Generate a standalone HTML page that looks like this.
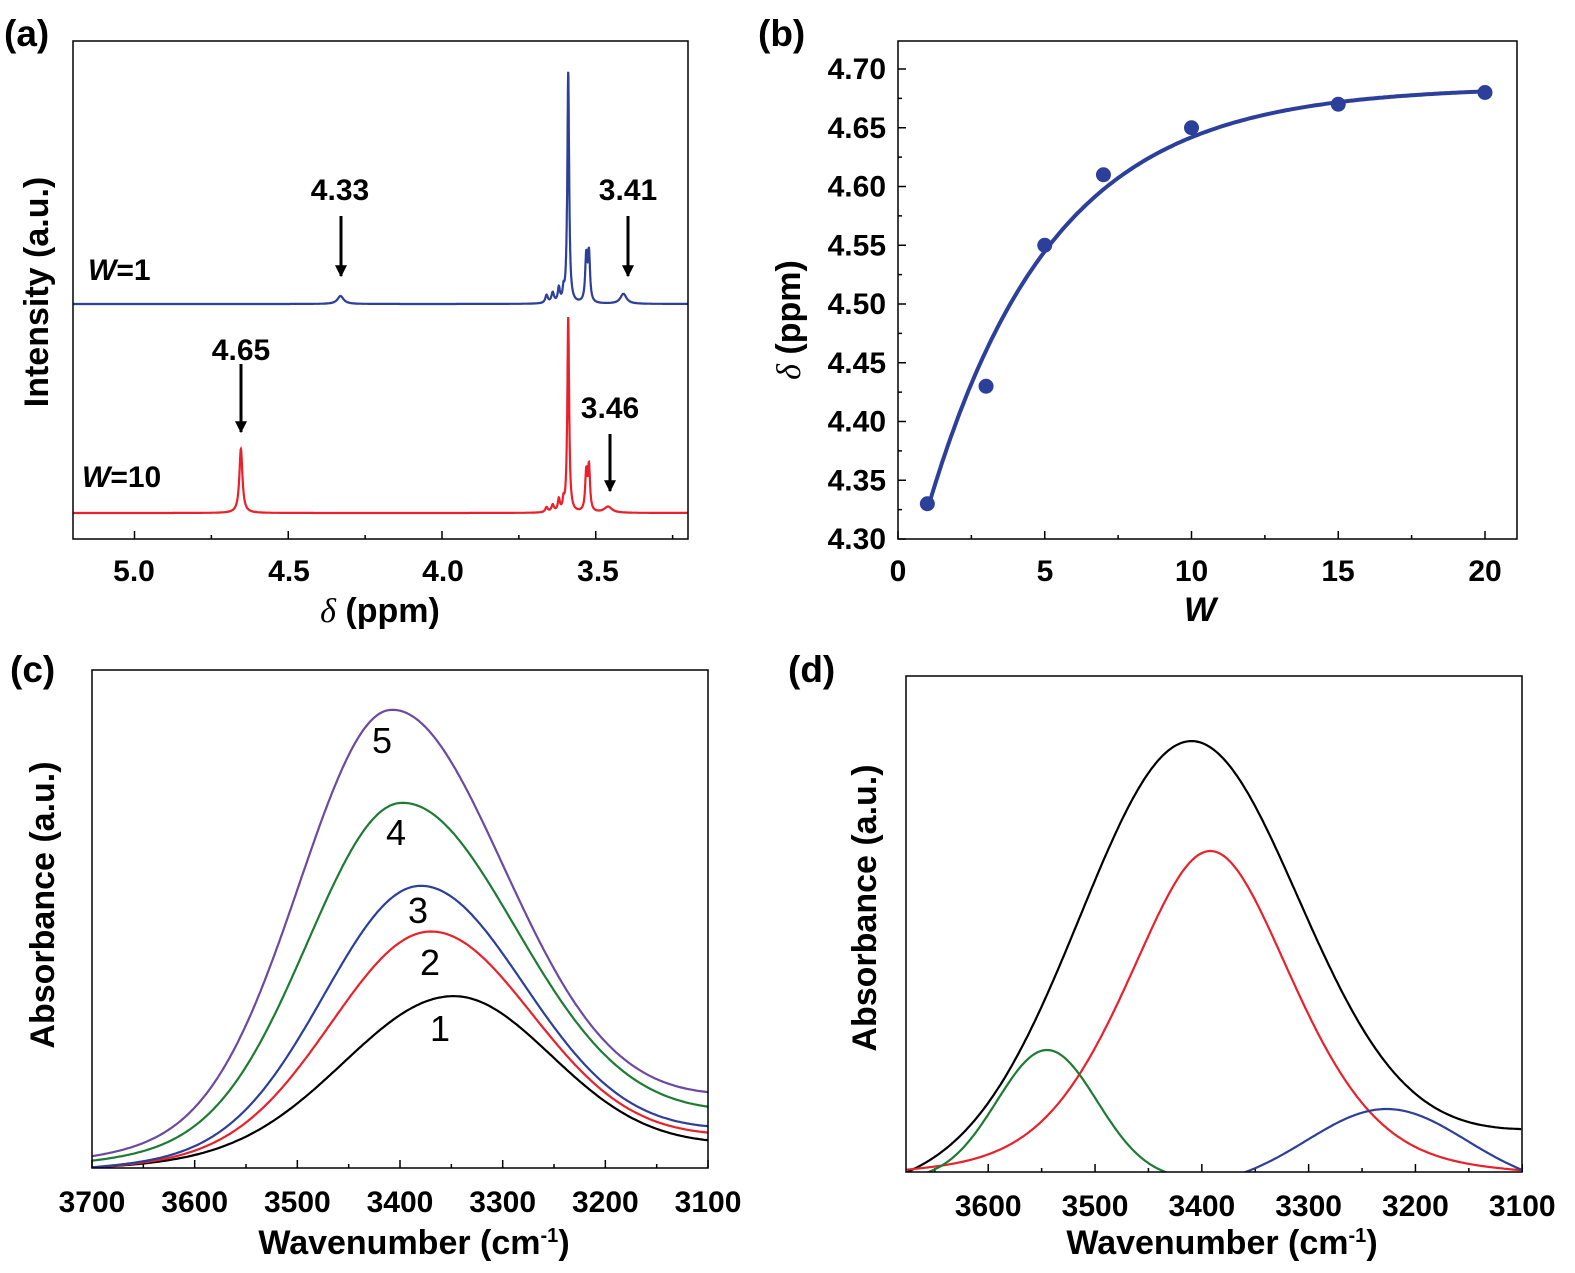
<!DOCTYPE html>
<html><head><meta charset="utf-8"><style>
body{margin:0;background:#fff}
svg{display:block;font-family:"Liberation Sans",Arial,sans-serif}
.tl{font-size:30px;font-weight:bold}
.at{font-size:34px;font-weight:bold}
.pl{font-size:37px;font-weight:bold}
.an{font-size:30px;font-weight:bold}
.nm{font-size:36px}
</style></head><body>
<svg id="s" width="1575" height="1273" viewBox="0 0 1575 1273" xmlns="http://www.w3.org/2000/svg">
<defs><marker id="ar" viewBox="0 0 10 10" refX="9" refY="5" markerWidth="4" markerHeight="4" orient="auto"><path d="M0,0L10,5L0,10z" fill="#000"/></marker></defs>
<g id="paths"></g>
<text x="4" y="46" class="pl">(a)</text>
<text x="758" y="46" class="pl">(b)</text>
<text x="10" y="682" class="pl">(c)</text>
<text x="788" y="682" class="pl">(d)</text>
<rect x="73" y="41" width="615" height="498" fill="none" stroke="#000" stroke-width="1.5"/>
<rect x="898" y="41" width="619" height="498" fill="none" stroke="#000" stroke-width="1.5"/>
<rect x="92" y="670" width="616" height="498" fill="none" stroke="#000" stroke-width="1.5"/>
<rect x="906" y="676" width="616" height="496" fill="none" stroke="#000" stroke-width="1.5"/>
<g class="tl" text-anchor="middle">
<text x="134" y="581">5.0</text><text x="289" y="581">4.5</text><text x="443" y="581">4.0</text><text x="598" y="581">3.5</text>
</g>
<text x="380" y="622" class="at" text-anchor="middle"><tspan font-style="italic" font-weight="normal" font-family="Liberation Serif">δ</tspan> (ppm)</text>
<text transform="translate(48,292) rotate(-90)" class="at" text-anchor="middle">Intensity (a.u.)</text>
<text x="88" y="280" class="an"><tspan font-style="italic">W</tspan>=1</text>
<text x="82" y="487" class="an"><tspan font-style="italic">W</tspan>=10</text>
<g class="an" text-anchor="middle">
<text x="340" y="200">4.33</text><text x="628" y="200">3.41</text>
<text x="241" y="360">4.65</text><text x="610" y="418">3.46</text>
</g>
<g stroke="#000" stroke-width="3" marker-end="url(#ar)">
<line x1="341" y1="216" x2="341" y2="276"/><line x1="628" y1="216" x2="628" y2="276"/>
<line x1="241" y1="364" x2="241" y2="432"/><line x1="610" y1="434" x2="610" y2="491"/>
</g>
<g class="tl" text-anchor="end" id="byl"></g>
<g class="tl" text-anchor="middle">
<text x="898" y="581">0</text><text x="1045" y="581">5</text><text x="1191.5" y="581">10</text><text x="1338" y="581">15</text><text x="1485" y="581">20</text>
</g>
<text x="1200" y="621" class="at" text-anchor="middle" font-style="italic">W</text>
<text transform="translate(800,320) rotate(-90)" class="at" text-anchor="middle"><tspan font-style="italic" font-weight="normal" font-family="Liberation Serif">δ</tspan> (ppm)</text>
<g class="tl" text-anchor="middle" id="cxl"></g>
<text x="414" y="1254" class="at" text-anchor="middle">Wavenumber (cm<tspan dy="-12" font-size="20">-1</tspan><tspan dy="12">)</tspan></text>
<text transform="translate(54,905) rotate(-90)" class="at" text-anchor="middle">Absorbance (a.u.)</text>
<g class="nm" text-anchor="middle">
<text x="382" y="753">5</text><text x="396" y="845">4</text><text x="418" y="923">3</text><text x="430" y="975">2</text><text x="440" y="1041">1</text>
</g>
<g class="tl" text-anchor="middle" id="dxl"></g>
<text x="1222" y="1254" class="at" text-anchor="middle">Wavenumber (cm<tspan dy="-12" font-size="20">-1</tspan><tspan dy="12">)</tspan></text>
<text transform="translate(876,908) rotate(-90)" class="at" text-anchor="middle">Absorbance (a.u.)</text>
</svg>
<script>
var NS="http://www.w3.org/2000/svg",G=document.getElementById('paths');
function P(d,c,w,clip){var p=document.createElementNS(NS,'path');p.setAttribute('d',d);p.setAttribute('fill','none');p.setAttribute('stroke',c);p.setAttribute('stroke-width',w||2.2);if(clip)p.setAttribute('clip-path',clip);G.appendChild(p);}
function L(x1,y1,x2,y2){P('M'+x1+','+y1+'L'+x2+','+y2,'#000',1.5);}
function T(g,x,y,s){var t=document.createElementNS(NS,'text');t.setAttribute('x',x);t.setAttribute('y',y);t.textContent=s;document.getElementById(g).appendChild(t);}
var defs=document.querySelector('defs');
function clip(id,x,y,w,h){var c=document.createElementNS(NS,'clipPath');c.id=id;var r=document.createElementNS(NS,'rect');r.setAttribute('x',x);r.setAttribute('y',y);r.setAttribute('width',w);r.setAttribute('height',h);c.appendChild(r);defs.appendChild(c);}
clip('cc',92,670,616,498);clip('cd',906,676,616,496);
// panel a
function ax(p){return 73+(5.2-p)*307.5;}
function nmr(peaks,base,col){var d='';for(var p=5.2;p>=3.2;p-=0.0005){var v=0;for(var i=0;i<peaks.length;i++){var k=peaks[i],u=(p-k[0])/k[2];v+=k[1]/(1+u*u);}d+=(d?'L':'M')+ax(p).toFixed(1)+','+(base-v).toFixed(1);}P(d,col,2.2);}
nmr([[3.5895,231,0.0035],[3.531,45,0.004],[3.522,48,0.004],[3.66,8,0.005],[3.64,10,0.005],[3.62,14,0.004],[3.605,10,0.003],[4.33,8,0.012],[3.41,10,0.012]],304,'#2b3f9b');
nmr([[4.654,64,0.006],[3.5895,195,0.0035],[3.531,38,0.004],[3.522,44,0.004],[3.66,5,0.005],[3.64,7,0.005],[3.62,12,0.004],[3.605,9,0.003],[3.46,6,0.015]],513,'#e8212b');
for(var p=5.0;p>=3.25;p-=0.25){var x=ax(p),maj=Math.abs(p*2-Math.round(p*2))<0.01;L(x,539,x,539-(maj?8:4));}
// panel b
function bx(w){return 898+w*29.35;}function by(v){return 539-(v-4.30)*1175;}
for(var i=0;i<=16;i++){var v=4.30+i*0.025,y=by(v),maj=i%2==0;L(898,y,898+(maj?8:4),y);if(maj)T('byl',886,y+10,v.toFixed(2));}
for(var w=0;w<=20;w+=2.5){var x=bx(w),maj=w%5==0;L(x,539,x,539-(maj?8:4));}
var d='';for(var w=1;w<=20;w+=0.1){var v=4.685-0.456*Math.exp(-w/4.24);d+=(d?'L':'M')+bx(w).toFixed(1)+','+by(v).toFixed(1);}P(d,'#2b3f9b',4);
[[1,4.33],[3,4.43],[5,4.55],[7,4.61],[10,4.65],[15,4.67],[20,4.68]].forEach(function(q){var c=document.createElementNS(NS,'circle');c.setAttribute('cx',bx(q[0]));c.setAttribute('cy',by(q[1]));c.setAttribute('r',7.5);c.setAttribute('fill','#2b3f9b');G.appendChild(c);});
// panel c
function cx(wn){return 92+(3700-wn)*1.0267;}
for(var wn=3700;wn>=3100;wn-=50){var x=cx(wn),maj=wn%100==0;L(x,1168,x,1168-(maj?8:4));if(maj)T('cxl',x,1212,wn);}
function ir(b0,b1,A,c,sL,sR,col){var d='';for(var wn=3700;wn>=3100;wn-=2){var t=(3700-wn)/600,u=(wn-c)/(wn>c?sL:sR);var v=b0+(b1-b0)*t+A*Math.exp(-u*u/2);d+=(d?'L':'M')+cx(wn).toFixed(1)+','+(1168-v).toFixed(1);}P(d,col,2.2,'url(#cc)');}
ir(0,22,159,3350,105,97,'#000');
ir(0,30,220,3372,95,100,'#e8212b');
ir(0,36,263,3382,92,102,'#2b3f9b');
ir(6,52,336,3400,90,112,'#1e7b34');
ir(10,68,420,3410,88,110,'#6b4aa0');
// panel d
function dx(wn){return 906+(3677-wn)*1.068;}
for(var wn=3650;wn>=3100;wn-=50){var x=dx(wn),maj=wn%100==0;L(x,1172,x,1172-(maj?8:4));if(maj)T('dxl',x,1216,wn);}
function dc(f,col){var d='';for(var wn=3677;wn>=3100;wn-=2){d+=(d?'L':'M')+dx(wn).toFixed(1)+','+(1172-f(wn)).toFixed(1);}P(d,col,2.2,'url(#cd)');}
dc(function(w){var t=(3677-w)/577,u=(w-3412)/102,b=-15+54*t;return b+421*Math.exp(-u*u/2);},'#000');
dc(function(w){var u=(w-3392)/80,l=(w-3392)/90;return 331*(0.6*Math.exp(-u*u/2)+0.4/(1+l*l))-10;},'#e8212b');
dc(function(w){var u=(w-3545)/47;return 130*Math.exp(-u*u/2)-8;},'#1e7b34');
dc(function(w){var u=(w-3227)/75;return 80*Math.exp(-u*u/2)-17;},'#2b3f9b');
</script>
</body></html>
